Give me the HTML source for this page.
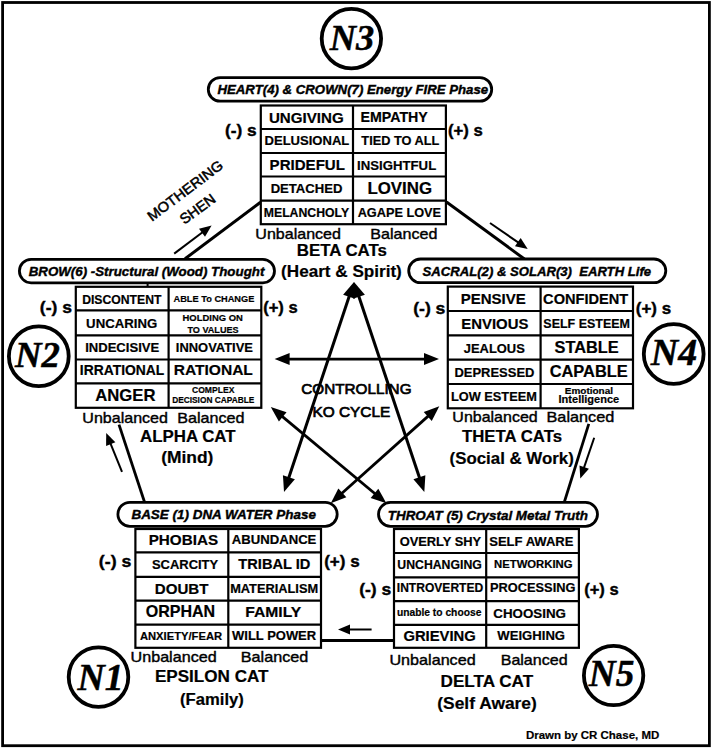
<!DOCTYPE html>
<html><head><meta charset="utf-8"><style>
html,body{margin:0;padding:0;background:#fff;}
svg{display:block;}
</style></head><body>
<svg width="712" height="748" viewBox="0 0 712 748">
<rect x="0" y="0" width="712" height="748" fill="#fff"/>
<rect x="2.6" y="2.5" width="706.8" height="743.2" fill="none" stroke="#000" stroke-width="2.8"/>
<line x1="260.5" y1="202.3" x2="185" y2="258.8" stroke="#000" stroke-width="3"/>
<line x1="446.5" y1="202" x2="524.4" y2="259" stroke="#000" stroke-width="3"/>
<line x1="119" y1="424.6" x2="144.5" y2="502" stroke="#000" stroke-width="2.8"/>
<line x1="588.8" y1="423.9" x2="564.2" y2="502.5" stroke="#000" stroke-width="2.8"/>
<line x1="321" y1="640.5" x2="394" y2="640.5" stroke="#000" stroke-width="2.8"/>
<line x1="174.20" y1="253.60" x2="205.84" y2="229.82" stroke="#000" stroke-width="2"/>
<polygon points="211.60,225.50 205.01,236.71 199.00,228.71" fill="#000"/>
<line x1="490.00" y1="223.00" x2="521.77" y2="244.91" stroke="#000" stroke-width="2"/>
<polygon points="527.70,249.00 514.98,246.30 520.66,238.07" fill="#000"/>
<line x1="122.00" y1="471.80" x2="108.92" y2="439.67" stroke="#000" stroke-width="2"/>
<polygon points="106.20,433.00 115.36,442.23 106.09,446.00" fill="#000"/>
<line x1="594.20" y1="437.80" x2="582.63" y2="471.69" stroke="#000" stroke-width="2"/>
<polygon points="580.30,478.50 579.45,465.53 588.91,468.76" fill="#000"/>
<line x1="371.60" y1="629.50" x2="345.20" y2="629.50" stroke="#000" stroke-width="2"/>
<polygon points="338.00,629.50 350.00,624.50 350.00,634.50" fill="#000"/>
<line x1="286.94" y1="483.18" x2="351.06" y2="290.82" stroke="#000" stroke-width="3"/>
<polygon points="354.00,282.00 355.08,298.70 343.12,294.71" fill="#000"/>
<polygon points="284.00,492.00 282.92,475.30 294.88,479.29" fill="#000"/>
<line x1="421.35" y1="483.18" x2="356.95" y2="290.82" stroke="#000" stroke-width="3"/>
<polygon points="354.00,282.00 364.89,294.70 352.95,298.70" fill="#000"/>
<polygon points="424.30,492.00 413.41,479.30 425.35,475.30" fill="#000"/>
<line x1="283.60" y1="359.10" x2="430.00" y2="359.10" stroke="#000" stroke-width="2.8"/>
<polygon points="439.00,359.10 424.00,365.10 424.00,353.10" fill="#000"/>
<polygon points="274.60,359.10 289.60,353.10 289.60,365.10" fill="#000"/>
<line x1="277.95" y1="412.95" x2="379.25" y2="497.25" stroke="#000" stroke-width="2.8"/>
<polygon points="386.40,503.20 370.65,497.90 378.32,488.67" fill="#000"/>
<polygon points="270.80,407.00 286.55,412.30 278.88,421.53" fill="#000"/>
<line x1="432.37" y1="412.40" x2="337.73" y2="497.00" stroke="#000" stroke-width="2.8"/>
<polygon points="330.80,503.20 338.36,488.40 346.35,497.34" fill="#000"/>
<polygon points="439.30,406.20 431.74,421.00 423.75,412.06" fill="#000"/>
<line x1="147.6" y1="283" x2="147.6" y2="287" stroke="#000" stroke-width="2"/>
<rect x="208.30" y="77.60" width="283.40" height="23.60" rx="11.80" ry="11.80" fill="#fff" stroke="#000" stroke-width="2.8"/>
<rect x="19.40" y="259.40" width="255.10" height="23.40" rx="11.70" ry="11.70" fill="#fff" stroke="#000" stroke-width="2.8"/>
<rect x="408.70" y="259.00" width="257.10" height="23.70" rx="11.85" ry="11.85" fill="#fff" stroke="#000" stroke-width="2.8"/>
<rect x="117.90" y="502.30" width="219.30" height="24.00" rx="12.00" ry="12.00" fill="#fff" stroke="#000" stroke-width="2.8"/>
<rect x="378.50" y="502.40" width="219.00" height="23.90" rx="11.95" ry="11.95" fill="#fff" stroke="#000" stroke-width="2.8"/>
<circle cx="351.4" cy="38.6" r="29.700000000000003" fill="#fff" stroke="#000" stroke-width="3.8"/>
<circle cx="38.8" cy="356.3" r="29.900000000000002" fill="#fff" stroke="#000" stroke-width="3.8"/>
<circle cx="673.7" cy="354" r="29.900000000000002" fill="#fff" stroke="#000" stroke-width="3.8"/>
<circle cx="98.5" cy="677.1" r="29.8" fill="#fff" stroke="#000" stroke-width="3.8"/>
<circle cx="613.6" cy="675.5" r="29.700000000000003" fill="#fff" stroke="#000" stroke-width="3.8"/>
<rect x="260.80" y="105.50" width="185.10" height="118.70" fill="#fff" stroke="#000" stroke-width="2.2"/>
<line x1="260.8" y1="129" x2="445.9" y2="129" stroke="#000" stroke-width="2.2"/>
<line x1="260.8" y1="153" x2="445.9" y2="153" stroke="#000" stroke-width="2.2"/>
<line x1="260.8" y1="176.5" x2="445.9" y2="176.5" stroke="#000" stroke-width="2.2"/>
<line x1="260.8" y1="200.6" x2="445.9" y2="200.6" stroke="#000" stroke-width="2.2"/>
<line x1="353" y1="105.5" x2="353" y2="224.2" stroke="#000" stroke-width="2.2"/>
<rect x="75.80" y="286.80" width="185.50" height="121.00" fill="#fff" stroke="#000" stroke-width="2.2"/>
<line x1="75.8" y1="310.4" x2="261.3" y2="310.4" stroke="#000" stroke-width="2.2"/>
<line x1="75.8" y1="335.3" x2="261.3" y2="335.3" stroke="#000" stroke-width="2.2"/>
<line x1="75.8" y1="359.5" x2="261.3" y2="359.5" stroke="#000" stroke-width="2.2"/>
<line x1="75.8" y1="383.4" x2="261.3" y2="383.4" stroke="#000" stroke-width="2.2"/>
<line x1="168.6" y1="286.8" x2="168.6" y2="407.8" stroke="#000" stroke-width="2.2"/>
<rect x="447.80" y="286.60" width="185.20" height="121.70" fill="#fff" stroke="#000" stroke-width="2.2"/>
<line x1="447.8" y1="311" x2="633" y2="311" stroke="#000" stroke-width="2.2"/>
<line x1="447.8" y1="335.3" x2="633" y2="335.3" stroke="#000" stroke-width="2.2"/>
<line x1="447.8" y1="359.6" x2="633" y2="359.6" stroke="#000" stroke-width="2.2"/>
<line x1="447.8" y1="384" x2="633" y2="384" stroke="#000" stroke-width="2.2"/>
<line x1="540.6" y1="286.6" x2="540.6" y2="408.3" stroke="#000" stroke-width="2.2"/>
<rect x="135.40" y="529.00" width="185.60" height="118.80" fill="#fff" stroke="#000" stroke-width="2.2"/>
<line x1="135.4" y1="552.4" x2="321" y2="552.4" stroke="#000" stroke-width="2.2"/>
<line x1="135.4" y1="576.8" x2="321" y2="576.8" stroke="#000" stroke-width="2.2"/>
<line x1="135.4" y1="600.6" x2="321" y2="600.6" stroke="#000" stroke-width="2.2"/>
<line x1="135.4" y1="624.6" x2="321" y2="624.6" stroke="#000" stroke-width="2.2"/>
<line x1="228.3" y1="529" x2="228.3" y2="647.8" stroke="#000" stroke-width="2.2"/>
<rect x="394.00" y="529.00" width="184.90" height="118.80" fill="#fff" stroke="#000" stroke-width="2.2"/>
<line x1="394" y1="553" x2="578.9" y2="553" stroke="#000" stroke-width="2.2"/>
<line x1="394" y1="577.3" x2="578.9" y2="577.3" stroke="#000" stroke-width="2.2"/>
<line x1="394" y1="601.1" x2="578.9" y2="601.1" stroke="#000" stroke-width="2.2"/>
<line x1="394" y1="624.9" x2="578.9" y2="624.9" stroke="#000" stroke-width="2.2"/>
<line x1="486.2" y1="529" x2="486.2" y2="647.8" stroke="#000" stroke-width="2.2"/>
<text x="329.74" y="50.00" font-family="Liberation Serif" font-weight="bold" font-style="italic" font-size="36.27" textLength="44.44" lengthAdjust="spacingAndGlyphs" stroke="#000" stroke-width="0.5">N3</text>
<text x="14.94" y="366.90" font-family="Liberation Serif" font-weight="bold" font-style="italic" font-size="36.61" textLength="44.90" lengthAdjust="spacingAndGlyphs" stroke="#000" stroke-width="0.5">N2</text>
<text x="650.85" y="365.00" font-family="Liberation Serif" font-weight="bold" font-style="italic" font-size="37.41" textLength="46.29" lengthAdjust="spacingAndGlyphs" stroke="#000" stroke-width="0.5">N4</text>
<text x="77.45" y="689.80" font-family="Liberation Serif" font-weight="bold" font-style="italic" font-size="37.36" textLength="46.13" lengthAdjust="spacingAndGlyphs" stroke="#000" stroke-width="0.5">N1</text>
<text x="588.84" y="685.80" font-family="Liberation Serif" font-weight="bold" font-style="italic" font-size="36.87" textLength="45.51" lengthAdjust="spacingAndGlyphs" stroke="#000" stroke-width="0.5">N5</text>
<text x="217.47" y="94.00" font-family="Liberation Sans" font-weight="bold" font-style="italic" font-size="13.20" textLength="270.70" lengthAdjust="spacingAndGlyphs" stroke="#000" stroke-width="0.4">HEART(4) &amp; CROWN(7) Energy FIRE Phase</text>
<text x="28.67" y="276.00" font-family="Liberation Sans" font-weight="bold" font-style="italic" font-size="13.30" textLength="235.68" lengthAdjust="spacingAndGlyphs" stroke="#000" stroke-width="0.4">BROW(6) -Structural (Wood) Thought</text>
<text x="422.64" y="276.00" font-family="Liberation Sans" font-weight="bold" font-style="italic" font-size="13.09" textLength="228.42" lengthAdjust="spacingAndGlyphs" stroke="#000" stroke-width="0.4">SACRAL(2) &amp; SOLAR(3) &#160;EARTH Life</text>
<text x="131.47" y="519.00" font-family="Liberation Sans" font-weight="bold" font-style="italic" font-size="13.28" textLength="184.40" lengthAdjust="spacingAndGlyphs" stroke="#000" stroke-width="0.4">BASE (1) DNA WATER Phase</text>
<text x="387.76" y="520.00" font-family="Liberation Sans" font-weight="bold" font-style="italic" font-size="13.35" textLength="200.21" lengthAdjust="spacingAndGlyphs" stroke="#000" stroke-width="0.4">THROAT (5) Crystal Metal Truth</text>
<text x="268.91" y="122.60" font-family="Liberation Sans" font-weight="bold" font-style="normal" font-size="14.76" textLength="74.80" lengthAdjust="spacingAndGlyphs" stroke="#000" stroke-width="0.2">UNGIVING</text>
<text x="264.54" y="144.90" font-family="Liberation Sans" font-weight="bold" font-style="normal" font-size="12.92" textLength="84.76" lengthAdjust="spacingAndGlyphs" stroke="#000" stroke-width="0.2">DELUSIONAL</text>
<text x="269.61" y="170.40" font-family="Liberation Sans" font-weight="bold" font-style="normal" font-size="14.73" textLength="75.34" lengthAdjust="spacingAndGlyphs" stroke="#000" stroke-width="0.2">PRIDEFUL</text>
<text x="270.65" y="193.40" font-family="Liberation Sans" font-weight="bold" font-style="normal" font-size="12.71" textLength="71.78" lengthAdjust="spacingAndGlyphs" stroke="#000" stroke-width="0.2">DETACHED</text>
<text x="263.78" y="216.80" font-family="Liberation Sans" font-weight="bold" font-style="normal" font-size="12.22" textLength="85.31" lengthAdjust="spacingAndGlyphs" stroke="#000" stroke-width="0.2">MELANCHOLY</text>
<text x="360.58" y="122.10" font-family="Liberation Sans" font-weight="bold" font-style="normal" font-size="13.71" textLength="67.24" lengthAdjust="spacingAndGlyphs" stroke="#000" stroke-width="0.2">EMPATHY</text>
<text x="361.36" y="144.90" font-family="Liberation Sans" font-weight="bold" font-style="normal" font-size="12.71" textLength="77.93" lengthAdjust="spacingAndGlyphs" stroke="#000" stroke-width="0.2">TIED TO ALL</text>
<text x="357.12" y="169.50" font-family="Liberation Sans" font-weight="bold" font-style="normal" font-size="13.13" textLength="79.08" lengthAdjust="spacingAndGlyphs" stroke="#000" stroke-width="0.2">INSIGHTFUL</text>
<text x="367.41" y="193.90" font-family="Liberation Sans" font-weight="bold" font-style="normal" font-size="16.28" textLength="64.60" lengthAdjust="spacingAndGlyphs" stroke="#000" stroke-width="0.2">LOVING</text>
<text x="357.68" y="217.30" font-family="Liberation Sans" font-weight="bold" font-style="normal" font-size="12.90" textLength="83.43" lengthAdjust="spacingAndGlyphs" stroke="#000" stroke-width="0.2">AGAPE LOVE</text>
<text x="82.18" y="303.80" font-family="Liberation Sans" font-weight="bold" font-style="normal" font-size="12.27" textLength="79.25" lengthAdjust="spacingAndGlyphs" stroke="#000" stroke-width="0.2">DISCONTENT</text>
<text x="86.11" y="327.80" font-family="Liberation Sans" font-weight="bold" font-style="normal" font-size="13.21" textLength="71.11" lengthAdjust="spacingAndGlyphs" stroke="#000" stroke-width="0.2">UNCARING</text>
<text x="85.13" y="352.10" font-family="Liberation Sans" font-weight="bold" font-style="normal" font-size="13.08" textLength="74.09" lengthAdjust="spacingAndGlyphs" stroke="#000" stroke-width="0.2">INDECISIVE</text>
<text x="79.88" y="375.30" font-family="Liberation Sans" font-weight="bold" font-style="normal" font-size="13.82" textLength="84.45" lengthAdjust="spacingAndGlyphs" stroke="#000" stroke-width="0.2">IRRATIONAL</text>
<text x="95.28" y="400.80" font-family="Liberation Sans" font-weight="bold" font-style="normal" font-size="16.77" textLength="60.26" lengthAdjust="spacingAndGlyphs" stroke="#000" stroke-width="0.2">ANGER</text>
<text x="173.55" y="302.40" font-family="Liberation Sans" font-weight="bold" font-style="normal" font-size="9.90" textLength="80.83" lengthAdjust="spacingAndGlyphs" stroke="#000" stroke-width="0.2">ABLE To CHANGE</text>
<text x="182.57" y="321.30" font-family="Liberation Sans" font-weight="bold" font-style="normal" font-size="9.37" textLength="60.26" lengthAdjust="spacingAndGlyphs" stroke="#000" stroke-width="0.2">HOLDING ON</text>
<text x="187.40" y="332.70" font-family="Liberation Sans" font-weight="bold" font-style="normal" font-size="9.27" textLength="51.27" lengthAdjust="spacingAndGlyphs" stroke="#000" stroke-width="0.2">TO VALUES</text>
<text x="175.85" y="351.80" font-family="Liberation Sans" font-weight="bold" font-style="normal" font-size="12.70" textLength="77.05" lengthAdjust="spacingAndGlyphs" stroke="#000" stroke-width="0.2">INNOVATIVE</text>
<text x="173.67" y="374.80" font-family="Liberation Sans" font-weight="bold" font-style="normal" font-size="15.44" textLength="79.21" lengthAdjust="spacingAndGlyphs" stroke="#000" stroke-width="0.2">RATIONAL</text>
<text x="192.03" y="393.20" font-family="Liberation Sans" font-weight="bold" font-style="normal" font-size="8.90" textLength="42.34" lengthAdjust="spacingAndGlyphs" stroke="#000" stroke-width="0.2">COMPLEX</text>
<text x="172.20" y="403.00" font-family="Liberation Sans" font-weight="bold" font-style="normal" font-size="9.00" textLength="82.15" lengthAdjust="spacingAndGlyphs" stroke="#000" stroke-width="0.2">DECISION CAPABLE</text>
<text x="460.74" y="303.80" font-family="Liberation Sans" font-weight="bold" font-style="normal" font-size="14.34" textLength="65.02" lengthAdjust="spacingAndGlyphs" stroke="#000" stroke-width="0.2">PENSIVE</text>
<text x="461.34" y="329.00" font-family="Liberation Sans" font-weight="bold" font-style="normal" font-size="14.28" textLength="67.01" lengthAdjust="spacingAndGlyphs" stroke="#000" stroke-width="0.2">ENVIOUS</text>
<text x="463.81" y="352.70" font-family="Liberation Sans" font-weight="bold" font-style="normal" font-size="12.56" textLength="60.98" lengthAdjust="spacingAndGlyphs" stroke="#000" stroke-width="0.2">JEALOUS</text>
<text x="454.47" y="376.50" font-family="Liberation Sans" font-weight="bold" font-style="normal" font-size="12.44" textLength="79.96" lengthAdjust="spacingAndGlyphs" stroke="#000" stroke-width="0.2">DEPRESSED</text>
<text x="450.95" y="401.30" font-family="Liberation Sans" font-weight="bold" font-style="normal" font-size="12.71" textLength="85.90" lengthAdjust="spacingAndGlyphs" stroke="#000" stroke-width="0.2">LOW ESTEEM</text>
<text x="543.11" y="303.80" font-family="Liberation Sans" font-weight="bold" font-style="normal" font-size="14.34" textLength="85.04" lengthAdjust="spacingAndGlyphs" stroke="#000" stroke-width="0.2">CONFIDENT</text>
<text x="543.35" y="327.80" font-family="Liberation Sans" font-weight="bold" font-style="normal" font-size="12.20" textLength="86.67" lengthAdjust="spacingAndGlyphs" stroke="#000" stroke-width="0.2">SELF ESTEEM</text>
<text x="554.55" y="352.70" font-family="Liberation Sans" font-weight="bold" font-style="normal" font-size="15.65" textLength="64.16" lengthAdjust="spacingAndGlyphs" stroke="#000" stroke-width="0.2">STABLE</text>
<text x="549.66" y="377.00" font-family="Liberation Sans" font-weight="bold" font-style="normal" font-size="15.71" textLength="78.06" lengthAdjust="spacingAndGlyphs" stroke="#000" stroke-width="0.2">CAPABLE</text>
<text x="564.81" y="393.90" font-family="Liberation Sans" font-weight="bold" font-style="normal" font-size="8.86" textLength="48.22" lengthAdjust="spacingAndGlyphs" stroke="#000" stroke-width="0.2">Emotional</text>
<text x="558.57" y="402.60" font-family="Liberation Sans" font-weight="bold" font-style="normal" font-size="10.89" textLength="60.60" lengthAdjust="spacingAndGlyphs" stroke="#000" stroke-width="0.2">Intelligence</text>
<text x="148.72" y="544.60" font-family="Liberation Sans" font-weight="bold" font-style="normal" font-size="14.59" textLength="69.35" lengthAdjust="spacingAndGlyphs" stroke="#000" stroke-width="0.2">PHOBIAS</text>
<text x="151.93" y="568.60" font-family="Liberation Sans" font-weight="bold" font-style="normal" font-size="12.81" textLength="66.28" lengthAdjust="spacingAndGlyphs" stroke="#000" stroke-width="0.2">SCARCITY</text>
<text x="154.79" y="594.10" font-family="Liberation Sans" font-weight="bold" font-style="normal" font-size="15.11" textLength="53.67" lengthAdjust="spacingAndGlyphs" stroke="#000" stroke-width="0.2">DOUBT</text>
<text x="145.66" y="617.30" font-family="Liberation Sans" font-weight="bold" font-style="normal" font-size="15.65" textLength="69.50" lengthAdjust="spacingAndGlyphs" stroke="#000" stroke-width="0.2">ORPHAN</text>
<text x="139.92" y="639.90" font-family="Liberation Sans" font-weight="bold" font-style="normal" font-size="11.35" textLength="82.22" lengthAdjust="spacingAndGlyphs" stroke="#000" stroke-width="0.2">ANXIETY/FEAR</text>
<text x="231.79" y="543.70" font-family="Liberation Sans" font-weight="bold" font-style="normal" font-size="12.53" textLength="84.60" lengthAdjust="spacingAndGlyphs" stroke="#000" stroke-width="0.2">ABUNDANCE</text>
<text x="238.34" y="568.90" font-family="Liberation Sans" font-weight="bold" font-style="normal" font-size="14.19" textLength="72.06" lengthAdjust="spacingAndGlyphs" stroke="#000" stroke-width="0.2">TRIBAL ID</text>
<text x="230.15" y="592.90" font-family="Liberation Sans" font-weight="bold" font-style="normal" font-size="12.66" textLength="87.99" lengthAdjust="spacingAndGlyphs" stroke="#000" stroke-width="0.2">MATERIALISM</text>
<text x="245.31" y="616.70" font-family="Liberation Sans" font-weight="bold" font-style="normal" font-size="14.72" textLength="56.02" lengthAdjust="spacingAndGlyphs" stroke="#000" stroke-width="0.2">FAMILY</text>
<text x="232.09" y="639.90" font-family="Liberation Sans" font-weight="bold" font-style="normal" font-size="12.79" textLength="84.07" lengthAdjust="spacingAndGlyphs" stroke="#000" stroke-width="0.2">WILL POWER</text>
<text x="399.67" y="545.50" font-family="Liberation Sans" font-weight="bold" font-style="normal" font-size="12.94" textLength="81.54" lengthAdjust="spacingAndGlyphs" stroke="#000" stroke-width="0.2">OVERLY SHY</text>
<text x="397.36" y="569.30" font-family="Liberation Sans" font-weight="bold" font-style="normal" font-size="12.38" textLength="84.41" lengthAdjust="spacingAndGlyphs" stroke="#000" stroke-width="0.2">UNCHANGING</text>
<text x="396.80" y="592.40" font-family="Liberation Sans" font-weight="bold" font-style="normal" font-size="11.99" textLength="86.41" lengthAdjust="spacingAndGlyphs" stroke="#000" stroke-width="0.2">INTROVERTED</text>
<text x="396.89" y="615.90" font-family="Liberation Sans" font-weight="bold" font-style="normal" font-size="11.50" textLength="84.51" lengthAdjust="spacingAndGlyphs" stroke="#000" stroke-width="0.2">unable to choose</text>
<text x="403.42" y="641.10" font-family="Liberation Sans" font-weight="bold" font-style="normal" font-size="14.24" textLength="72.37" lengthAdjust="spacingAndGlyphs" stroke="#000" stroke-width="0.2">GRIEVING</text>
<text x="489.23" y="545.50" font-family="Liberation Sans" font-weight="bold" font-style="normal" font-size="12.99" textLength="84.28" lengthAdjust="spacingAndGlyphs" stroke="#000" stroke-width="0.2">SELF AWARE</text>
<text x="494.06" y="568.10" font-family="Liberation Sans" font-weight="bold" font-style="normal" font-size="11.03" textLength="78.42" lengthAdjust="spacingAndGlyphs" stroke="#000" stroke-width="0.2">NETWORKING</text>
<text x="489.97" y="592.40" font-family="Liberation Sans" font-weight="bold" font-style="normal" font-size="12.37" textLength="85.50" lengthAdjust="spacingAndGlyphs" stroke="#000" stroke-width="0.2">PROCESSING</text>
<text x="493.37" y="618.10" font-family="Liberation Sans" font-weight="bold" font-style="normal" font-size="13.00" textLength="72.64" lengthAdjust="spacingAndGlyphs" stroke="#000" stroke-width="0.2">CHOOSING</text>
<text x="497.39" y="640.20" font-family="Liberation Sans" font-weight="bold" font-style="normal" font-size="12.51" textLength="67.69" lengthAdjust="spacingAndGlyphs" stroke="#000" stroke-width="0.2">WEIGHING</text>
<text x="224.99" y="136.20" font-family="Liberation Sans" font-weight="bold" font-style="normal" font-size="16.30" textLength="31.68" lengthAdjust="spacingAndGlyphs" stroke="#000" stroke-width="0.4">(-) s</text>
<text x="447.99" y="136.10" font-family="Liberation Sans" font-weight="bold" font-style="normal" font-size="16.30" textLength="34.78" lengthAdjust="spacingAndGlyphs" stroke="#000" stroke-width="0.4">(+) s</text>
<text x="39.89" y="313.00" font-family="Liberation Sans" font-weight="bold" font-style="normal" font-size="16.30" textLength="32.08" lengthAdjust="spacingAndGlyphs" stroke="#000" stroke-width="0.4">(-) s</text>
<text x="263.19" y="313.00" font-family="Liberation Sans" font-weight="bold" font-style="normal" font-size="16.30" textLength="34.48" lengthAdjust="spacingAndGlyphs" stroke="#000" stroke-width="0.4">(+) s</text>
<text x="413.19" y="314.30" font-family="Liberation Sans" font-weight="bold" font-style="normal" font-size="16.30" textLength="32.18" lengthAdjust="spacingAndGlyphs" stroke="#000" stroke-width="0.4">(-) s</text>
<text x="635.79" y="313.50" font-family="Liberation Sans" font-weight="bold" font-style="normal" font-size="16.30" textLength="35.28" lengthAdjust="spacingAndGlyphs" stroke="#000" stroke-width="0.4">(+) s</text>
<text x="98.89" y="567.20" font-family="Liberation Sans" font-weight="bold" font-style="normal" font-size="16.30" textLength="32.48" lengthAdjust="spacingAndGlyphs" stroke="#000" stroke-width="0.4">(-) s</text>
<text x="324.19" y="567.20" font-family="Liberation Sans" font-weight="bold" font-style="normal" font-size="16.30" textLength="35.48" lengthAdjust="spacingAndGlyphs" stroke="#000" stroke-width="0.4">(+) s</text>
<text x="359.19" y="594.80" font-family="Liberation Sans" font-weight="bold" font-style="normal" font-size="16.30" textLength="32.08" lengthAdjust="spacingAndGlyphs" stroke="#000" stroke-width="0.4">(-) s</text>
<text x="584.19" y="594.80" font-family="Liberation Sans" font-weight="bold" font-style="normal" font-size="16.30" textLength="34.48" lengthAdjust="spacingAndGlyphs" stroke="#000" stroke-width="0.4">(+) s</text>
<text x="255.36" y="239.20" font-family="Liberation Sans" font-weight="normal" font-style="normal" font-size="14.80" textLength="85.60" lengthAdjust="spacingAndGlyphs" stroke="#000" stroke-width="0.4">Unbalanced</text>
<text x="370.29" y="239.20" font-family="Liberation Sans" font-weight="normal" font-style="normal" font-size="14.80" textLength="67.07" lengthAdjust="spacingAndGlyphs" stroke="#000" stroke-width="0.4">Balanced</text>
<text x="82.36" y="423.00" font-family="Liberation Sans" font-weight="normal" font-style="normal" font-size="14.80" textLength="85.60" lengthAdjust="spacingAndGlyphs" stroke="#000" stroke-width="0.4">Unbalanced</text>
<text x="177.19" y="423.00" font-family="Liberation Sans" font-weight="normal" font-style="normal" font-size="14.80" textLength="67.37" lengthAdjust="spacingAndGlyphs" stroke="#000" stroke-width="0.4">Balanced</text>
<text x="452.36" y="422.20" font-family="Liberation Sans" font-weight="normal" font-style="normal" font-size="14.80" textLength="85.30" lengthAdjust="spacingAndGlyphs" stroke="#000" stroke-width="0.4">Unbalanced</text>
<text x="546.49" y="422.40" font-family="Liberation Sans" font-weight="normal" font-style="normal" font-size="14.80" textLength="67.87" lengthAdjust="spacingAndGlyphs" stroke="#000" stroke-width="0.4">Balanced</text>
<text x="130.56" y="662.00" font-family="Liberation Sans" font-weight="normal" font-style="normal" font-size="14.80" textLength="86.10" lengthAdjust="spacingAndGlyphs" stroke="#000" stroke-width="0.4">Unbalanced</text>
<text x="240.79" y="662.00" font-family="Liberation Sans" font-weight="normal" font-style="normal" font-size="14.80" textLength="67.57" lengthAdjust="spacingAndGlyphs" stroke="#000" stroke-width="0.4">Balanced</text>
<text x="389.46" y="664.80" font-family="Liberation Sans" font-weight="normal" font-style="normal" font-size="14.80" textLength="86.20" lengthAdjust="spacingAndGlyphs" stroke="#000" stroke-width="0.4">Unbalanced</text>
<text x="500.69" y="664.80" font-family="Liberation Sans" font-weight="normal" font-style="normal" font-size="14.80" textLength="66.87" lengthAdjust="spacingAndGlyphs" stroke="#000" stroke-width="0.4">Balanced</text>
<text x="296.73" y="256.10" font-family="Liberation Sans" font-weight="bold" font-style="normal" font-size="16.00" textLength="90.23" lengthAdjust="spacingAndGlyphs" stroke="#000" stroke-width="0.2">BETA CATs</text>
<text x="281.08" y="277.20" font-family="Liberation Sans" font-weight="bold" font-style="normal" font-size="16.50" textLength="120.74" lengthAdjust="spacingAndGlyphs" stroke="#000" stroke-width="0.2">(Heart &amp; Spirit)</text>
<text x="140.10" y="442.40" font-family="Liberation Sans" font-weight="bold" font-style="normal" font-size="16.00" textLength="95.47" lengthAdjust="spacingAndGlyphs" stroke="#000" stroke-width="0.2">ALPHA CAT</text>
<text x="161.18" y="463.20" font-family="Liberation Sans" font-weight="bold" font-style="normal" font-size="16.50" textLength="52.24" lengthAdjust="spacingAndGlyphs" stroke="#000" stroke-width="0.2">(Mind)</text>
<text x="462.02" y="441.70" font-family="Liberation Sans" font-weight="bold" font-style="normal" font-size="16.00" textLength="99.94" lengthAdjust="spacingAndGlyphs" stroke="#000" stroke-width="0.2">THETA CATs</text>
<text x="449.58" y="464.00" font-family="Liberation Sans" font-weight="bold" font-style="normal" font-size="16.50" textLength="124.24" lengthAdjust="spacingAndGlyphs" stroke="#000" stroke-width="0.2">(Social &amp; Work)</text>
<text x="154.93" y="682.30" font-family="Liberation Sans" font-weight="bold" font-style="normal" font-size="16.00" textLength="113.54" lengthAdjust="spacingAndGlyphs" stroke="#000" stroke-width="0.2">EPSILON CAT</text>
<text x="180.06" y="704.50" font-family="Liberation Sans" font-weight="bold" font-style="normal" font-size="16.80" textLength="63.77" lengthAdjust="spacingAndGlyphs" stroke="#000" stroke-width="0.2">(Family)</text>
<text x="440.53" y="687.40" font-family="Liberation Sans" font-weight="bold" font-style="normal" font-size="16.00" textLength="92.64" lengthAdjust="spacingAndGlyphs" stroke="#000" stroke-width="0.2">DELTA CAT</text>
<text x="437.26" y="709.30" font-family="Liberation Sans" font-weight="bold" font-style="normal" font-size="16.80" textLength="99.57" lengthAdjust="spacingAndGlyphs" stroke="#000" stroke-width="0.2">(Self Aware)</text>
<text x="301.22" y="393.50" font-family="Liberation Sans" font-weight="normal" font-style="normal" font-size="15.30" textLength="110.32" lengthAdjust="spacingAndGlyphs" stroke="#000" stroke-width="0.7">CONTROLLING</text>
<text x="312.44" y="416.80" font-family="Liberation Sans" font-weight="normal" font-style="normal" font-size="15.30" textLength="77.81" lengthAdjust="spacingAndGlyphs" stroke="#000" stroke-width="0.7">KO CYCLE</text>
<g transform="translate(185.20,190.60) rotate(-37)"><text x="-45.21" y="4.88" font-family="Liberation Sans" font-weight="normal" font-style="normal" font-size="14.20" textLength="90.32" lengthAdjust="spacingAndGlyphs" stroke="#000" stroke-width="0.5">MOTHERING</text></g>
<g transform="translate(197.30,209.10) rotate(-36)"><text x="-19.88" y="4.99" font-family="Liberation Sans" font-weight="normal" font-style="normal" font-size="14.50" textLength="40.29" lengthAdjust="spacingAndGlyphs" stroke="#000" stroke-width="0.5">SHEN</text></g>
<text x="525.91" y="739.00" font-family="Liberation Sans" font-weight="bold" font-style="normal" font-size="11.80" textLength="133.38" lengthAdjust="spacingAndGlyphs" stroke="#000" stroke-width="0.2">Drawn by CR Chase, MD</text>
</svg>
</body></html>
